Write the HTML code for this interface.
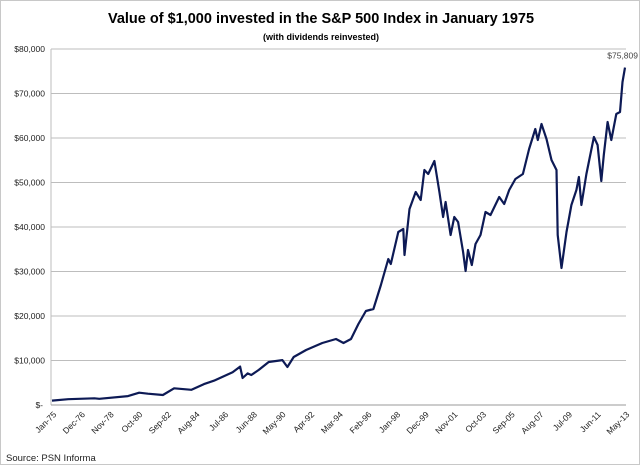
<!DOCTYPE html>
<html><head><meta charset="utf-8"><style>
html,body{margin:0;padding:0;background:#fff}
#wrap{position:relative;width:638px;height:463px;border:1px solid #c8c8c8;background:#fff;overflow:hidden}
svg{position:absolute;left:0;top:0}
text{font-family:"Liberation Sans",sans-serif}
</style></head><body>
<div id="wrap">
<svg id="chart" width="640" height="465">
<text x="320" y="22" text-anchor="middle" font-size="14.5" font-weight="bold" fill="#000">Value of $1,000 invested in the S&amp;P 500 Index in January 1975</text>
<text x="320" y="39" text-anchor="middle" font-size="9" font-weight="bold" fill="#000">(with dividends reinvested)</text>
<text x="5" y="460" font-size="9.5" fill="#222">Source: PSN Informa</text>
</svg>
</div>
<script>
const months = [0,13,34,38,61,70,77,89,98,112,122,130,137,145,151,153,157,160,166,174,185,189,194,204,217,228,234,240,246,252,258,264,270,272,278,282,283,287,292,296,299,302,307,311,314,316,320,323,326,330,332,334,337,340,344,348,352,359,363,367,372,378,383,388,390,393,397,401,405,406,409,413,417,421,423,425,429,435,438,441,443,446,449,453,456,458,460];
const values = [1000,1300,1500,1400,2000,2760,2540,2250,3750,3410,4700,5450,6360,7340,8640,6060,7110,6740,7880,9660,10100,8540,10790,12360,13930,14830,13930,14830,18200,21120,21570,26970,32810,31690,38880,39550,33710,44040,47870,46070,52810,51910,54830,47870,42250,45620,38200,42250,41120,34380,30110,34830,31460,36180,38200,43370,42700,46740,45170,48310,50790,51910,57530,62020,59550,63150,59780,55060,52810,38200,30790,38880,44940,48310,51240,44940,51910,60220,58430,50340,56180,63600,59550,65390,65840,72580,75809];
const yTicks = [0,10000,20000,30000,40000,50000,60000,70000,80000];
const yTickLabels = ["$-","$10,000","$20,000","$30,000","$40,000","$50,000","$60,000","$70,000","$80,000"];
const xTickLabels = ["Jan-75","Dec-76","Nov-78","Oct-80","Sep-82","Aug-84","Jul-86","Jun-88","May-90","Apr-92","Mar-94","Feb-96","Jan-98","Dec-99","Nov-01","Oct-03","Sep-05","Aug-07","Jul-09","Jun-11","May-13"];
const endLabel = "$75,809";

const NS="http://www.w3.org/2000/svg", svg=document.getElementById('chart');
const L=51,R=624,T=48,B=404,PL=50,PR=625;
const xs=m=>L+m*(R-L)/460;
const ys=v=>B-v*(B-T)/80000;
function el(t,a){const e=document.createElementNS(NS,t);for(const k in a)e.setAttribute(k,a[k]);svg.appendChild(e);return e;}
yTicks.forEach((v,i)=>{
  if(v>0){const g=el('line',{x1:PL,x2:PR,y1:ys(v),y2:ys(v),stroke:'#bdbdbd','stroke-width':1});
  
  }
  const t=el('text',{x:i===0?42:44,y:ys(v)+3,'text-anchor':'end','font-size':8.5,fill:'#222'});
  t.textContent=yTickLabels[i];
  
  
});
const ya=el('line',{x1:PL,x2:PL,y1:T,y2:B,stroke:'#bdbdbd'});


const xa=el('line',{x1:PL,x2:PR,y1:B,y2:B,stroke:'#9a9a9a'});


xTickLabels.forEach((s,i)=>{
  const x=xs(i*23);
  const t=el('text',{x:x+5,y:B+10,'text-anchor':'end','font-size':8.5,fill:'#222',transform:`rotate(-45 ${x+5} ${B+10})`});
  t.textContent=s;
  
  
});
const pts=months.map((m,i)=>xs(m).toFixed(1)+','+ys(values[i]).toFixed(1)).join(' ');
const line=el('polyline',{points:pts,fill:'none',stroke:'#0d1a55','stroke-width':2.2,'stroke-linejoin':'round'});


const lm=months[months.length-1], lv=values[values.length-1];
const et=el('text',{x:xs(lm)+13,y:ys(lv)-9,'text-anchor':'end','font-size':8.5,fill:'#444'});
et.textContent=endLabel;


</script>
</body></html>
